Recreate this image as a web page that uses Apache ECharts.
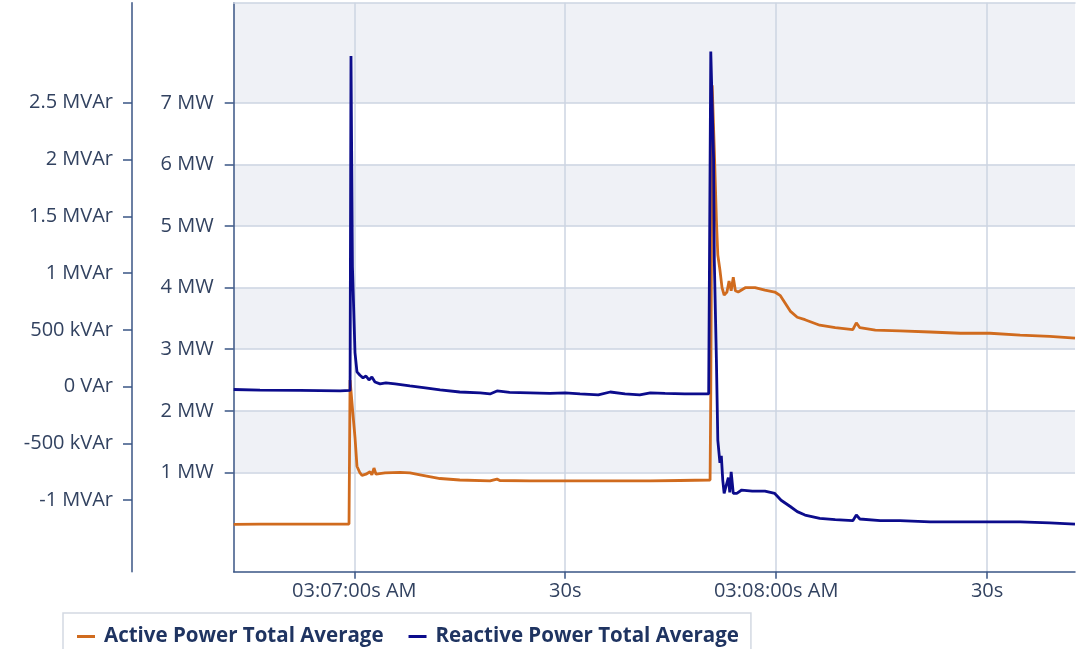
<!DOCTYPE html>
<html>
<head>
<meta charset="utf-8">
<script src="https://cdn.jsdelivr.net/npm/echarts@6/dist/echarts.min.js"></script>
<style>
html,body{margin:0;padding:0;background:#fff;}
#chart{width:1086px;height:649px;}
</style>
</head>
<body>
<div id="chart"></div>
<script>
// time in seconds relative to 03:07:00 AM
const xTickValues = [0, 30, 60, 90];
const xTickLabels = ['03:07:00s AM', '30s', '03:08:00s AM', '30s'];
const xRange = [-17.15, 102.5];

// Active power (MW)
const mwTicks = [1, 2, 3, 4, 5, 6, 7];
const mwRange = [-0.614, 8.63];
// Reactive power (MVAr)
const mvarTicks = [-1, -0.5, 0, 0.5, 1, 1.5, 2, 2.5];
const mvarRange = [-1.629, 3.38];

const seriesNames = ['Active Power Total Average', 'Reactive Power Total Average'];

const activeTimes = [-17.15, -13.4, -7.7, -0.75, -0.6, -0.47, -0.18, 0.1, 0.38, 0.81, 1.1, 1.66, 2.23, 2.5, 2.8, 3.09, 4.37, 6.5, 7.92, 9.35, 12.2, 15.0, 19.3, 20.3, 20.7, 25.0, 29.3, 34.9, 42.1, 46.3, 50.6, 50.7, 50.9, 51.2, 51.5, 51.7, 52.0, 52.3, 52.6, 53.0, 53.3, 53.6, 53.9, 54.2, 54.6, 55.6, 57.0, 58.4, 59.8, 60.6, 62.0, 63.0, 64.1, 66.2, 68.4, 70.9, 71.4, 71.9, 74.1, 77.6, 81.9, 86.2, 90.4, 94.7, 98.9, 102.5];
const activeValues = [0.156, 0.16, 0.16, 0.16, 2.50, 2.51, 1.93, 1.57, 1.10, 0.99, 0.95, 0.97, 1.01, 0.96, 1.07, 0.97, 0.99, 1.00, 0.99, 0.96, 0.90, 0.876, 0.86, 0.89, 0.868, 0.86, 0.86, 0.86, 0.86, 0.868, 0.876, 2.29, 7.29, 6.24, 5.10, 4.53, 4.29, 4.00, 3.88, 3.93, 4.11, 3.95, 4.17, 3.95, 3.93, 4.00, 4.00, 3.96, 3.93, 3.87, 3.62, 3.52, 3.48, 3.39, 3.35, 3.32, 3.43, 3.35, 3.31, 3.30, 3.28, 3.26, 3.26, 3.23, 3.21, 3.18];

const reactiveTimes = [-17.15, -13.4, -7.7, -2.0, -0.6, -0.47, -0.26, -0.04, 0.1, 0.38, 0.81, 1.24, 1.66, 2.09, 2.5, 2.94, 3.66, 4.5, 5.8, 7.9, 10.1, 12.2, 15.0, 17.9, 19.3, 20.3, 22.1, 25.0, 27.8, 30.0, 32.1, 34.7, 36.4, 38.5, 40.6, 42.1, 44.2, 47.0, 50.4, 50.7, 50.9, 51.1, 51.2, 51.5, 51.7, 52.0, 52.2, 52.4, 52.6, 52.9, 53.2, 53.4, 53.6, 53.9, 54.4, 55.1, 56.6, 58.4, 59.8, 60.7, 62.0, 63.0, 64.1, 66.2, 68.4, 70.9, 71.4, 71.9, 74.8, 77.6, 81.9, 86.2, 90.4, 94.7, 98.9, 102.5];
const reactiveValues = [-0.025, -0.03, -0.033, -0.038, -0.033, 2.91, 1.05, 0.59, 0.30, 0.13, 0.10, 0.077, 0.094, 0.059, 0.085, 0.041, 0.024, 0.033, 0.024, 0.006, -0.011, -0.029, -0.047, -0.055, -0.064, -0.038, -0.051, -0.055, -0.06, -0.055, -0.064, -0.073, -0.047, -0.064, -0.073, -0.055, -0.06, -0.064, -0.064, 2.95, 2.955, 2.0, 1.12, 0.235, -0.47, -0.67, -0.61, -0.82, -0.94, -0.87, -0.80, -0.93, -0.75, -0.94, -0.94, -0.91, -0.92, -0.92, -0.94, -1.0, -1.055, -1.10, -1.13, -1.16, -1.17, -1.18, -1.13, -1.165, -1.18, -1.18, -1.19, -1.19, -1.19, -1.19, -1.20, -1.21];

const pairs = (ts, vs) => ts.map((t, i) => [t, vs[i]]);

// alternating shaded bands between MW ticks
const bands = [];
for (let i = 0; i < mwTicks.length; i += 2) {
  const hi = i + 1 < mwTicks.length ? mwTicks[i + 1] : mwRange[1];
  bands.push([{ yAxis: mwTicks[i] }, { yAxis: hi }]);
}

const FONT = 'Open Sans';
const labelColor = '#324260';
const axisColor = '#3a5585';
const gridColor = '#cdd5e2';

function mvarFmt(v) {
  if (v === 0) return '0 VAr';
  if (Math.abs(v) < 1) return Math.round(v * 1000) + ' kVAr';
  return v + ' MVAr';
}

const chart = echarts.init(document.getElementById('chart'));
chart.setOption({
  animation: false,
  backgroundColor: '#ffffff',
  grid: { left: 233.7, right: 11, top: 2.7, bottom: 77.3, containLabel: false },
  legend: {
    left: 63, top: 613,
    padding: [13, 12, 10, 14],
    borderColor: '#d3d9e2', borderWidth: 1.5,
    backgroundColor: '#fff',
    itemGap: 25, itemWidth: 18, itemHeight: 3,
    icon: 'rect',
    textStyle: { fontFamily: FONT, fontSize: 20.5, fontWeight: 'bold', color: '#1f3461', padding: [0, 0, 0, 4] },
    data: seriesNames
  },
  xAxis: [{
    type: 'value', min: xRange[0], max: xRange[1], z: 2,
    axisLine: { show: true, onZero: false, lineStyle: { color: axisColor, width: 1.5 } },
    axisTick: { show: true, customValues: xTickValues, length: 7, lineStyle: { color: axisColor, width: 1.5 } },
    axisLabel: {
      customValues: xTickValues, margin: 10,
      fontFamily: FONT, fontSize: 20, color: labelColor,
      formatter: v => xTickLabels[xTickValues.indexOf(v)] || ''
    },
    splitLine: { show: true, lineStyle: { color: gridColor, width: 1.5 } }
  }, {
    type: 'value', position: 'top', min: xRange[0], max: xRange[1], z: 2,
    axisLine: { show: true, onZero: false, lineStyle: { color: gridColor, width: 1.5 } },
    axisTick: { show: false }, axisLabel: { show: false }, splitLine: { show: false }
  }],
  yAxis: [{
    type: 'value', position: 'left', offset: 101.7, min: mvarRange[0], max: mvarRange[1], z: 2,
    axisLine: { show: true, onZero: false, lineStyle: { color: axisColor, width: 1.5 } },
    axisTick: { show: true, customValues: mvarTicks, length: 9, lineStyle: { color: axisColor, width: 1.5 } },
    axisLabel: { customValues: mvarTicks, margin: 19, fontFamily: FONT, fontSize: 20, color: labelColor, formatter: mvarFmt },
    splitLine: { show: false }
  }, {
    type: 'value', position: 'left', min: mwRange[0], max: mwRange[1], z: 2,
    axisLine: { show: true, onZero: false, lineStyle: { color: axisColor, width: 1.5 } },
    axisTick: { show: true, customValues: mwTicks, length: 9, lineStyle: { color: axisColor, width: 1.5 } },
    axisLabel: { customValues: mwTicks, margin: 20, fontFamily: FONT, fontSize: 20, color: labelColor, formatter: v => v + ' MW' },
    splitLine: { show: true, lineStyle: { color: gridColor, width: 1.5 } }
  }],
  series: [{
    name: 'bands', type: 'line', yAxisIndex: 1, z: 1, data: [], silent: true,
    markArea: { silent: true, itemStyle: { color: '#eff1f6' }, data: bands }
  }, {
    name: seriesNames[0], type: 'line', yAxisIndex: 1, z: 3,
    showSymbol: false, symbol: 'none',
    color: '#d06b1e',
    lineStyle: { width: 2.8, color: '#d06b1e' },
    data: pairs(activeTimes, activeValues)
  }, {
    name: seriesNames[1], type: 'line', yAxisIndex: 0, z: 4,
    showSymbol: false, symbol: 'none',
    color: '#0c0c8c',
    lineStyle: { width: 2.8, color: '#0c0c8c' },
    data: pairs(reactiveTimes, reactiveValues)
  }]
});
</script>
</body>
</html>
